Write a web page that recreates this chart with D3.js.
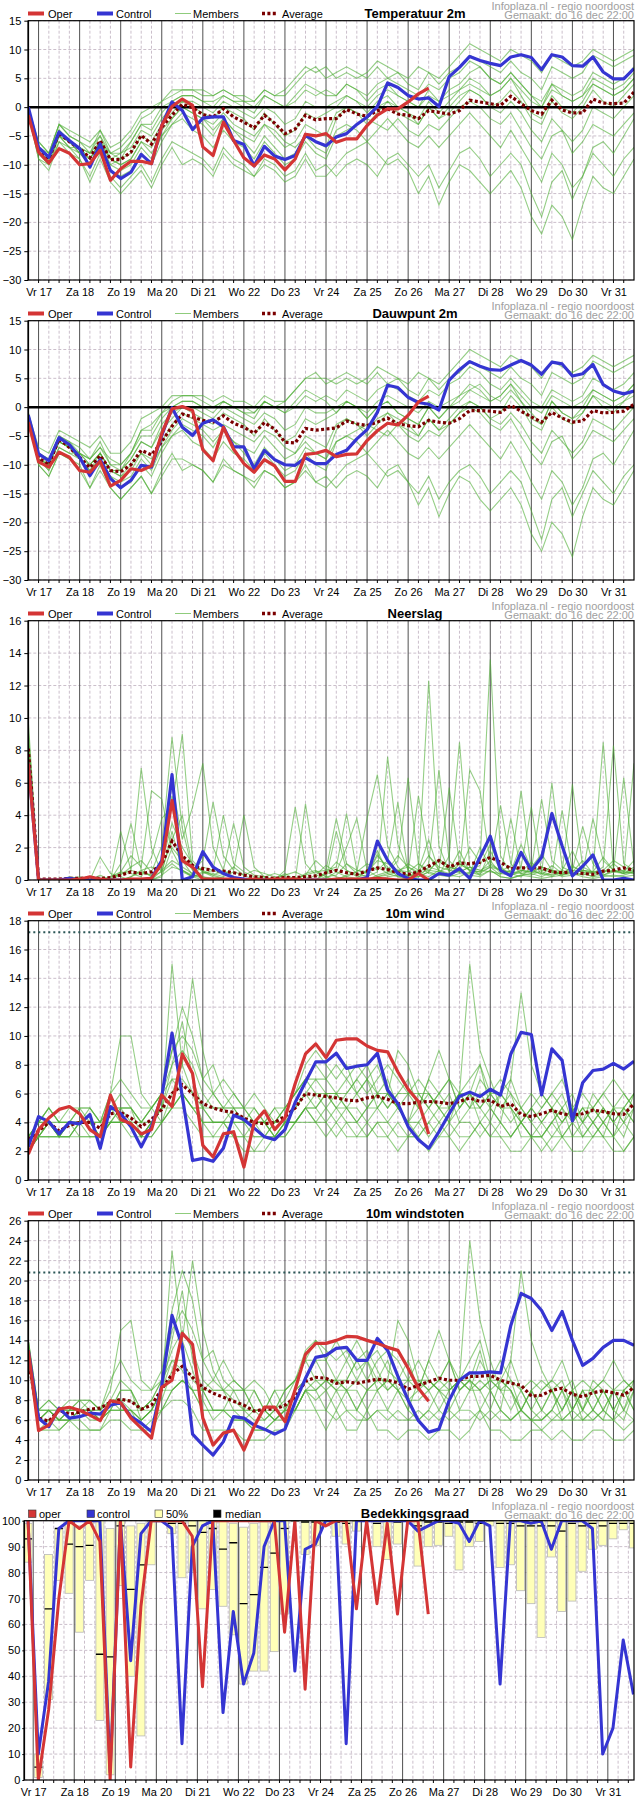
<!DOCTYPE html>
<html><head><meta charset="utf-8">
<script src="https://cdn.jsdelivr.net/npm/d3@7"></script>
<style>body{margin:0;background:#fff}svg{display:block}text{font-family:"Liberation Sans",Arial,sans-serif}</style>
</head><body><svg id="chart" width="635" height="1800"></svg>
<script>
// ---------- DATA ----------
const dayLabels = ["Vr 17","Za 18","Zo 19","Ma 20","Di 21","Wo 22","Do 23","Vr 24","Za 25","Zo 26","Ma 27","Di 28","Wo 29","Do 30","Vr 31"];
const titles = ["Temperatuur 2m","Dauwpunt 2m","Neerslag","10m wind","10m windstoten","Bedekkingsgraad"];
const infoLine1 = "Infoplaza.nl - regio noordoost";
const infoLine2 = "Gemaakt: do 16 dec 22:00";
const tempTicks = [-30,-25,-20,-15,-10,-5,0,5,10,15];
const precipTicks = [0,2,4,6,8,10,12,14,16];
const windTicks = [0,2,4,6,8,10,12,14,16,18];
const gustTicks = [0,2,4,6,8,10,12,14,16,18,20,22,24,26];
const cloudTicks = [0,10,20,30,40,50,60,70,80,90,100];
const windThreshold = 17.2;
const gustThreshold = 20.8;

const tempOper = [-1.4,-7.8,-9.7,-7.2,-8.0,-10.0,-9.8,-7.5,-12.7,-10.7,-9.4,-9.4,-9.8,-3.2,0.1,1.4,0.3,-6.9,-8.4,-2.6,-5.8,-8.8,-10.2,-8.3,-9.0,-10.9,-9.0,-4.7,-5.0,-4.6,-6.1,-5.5,-5.5,-3.2,-1.4,-0.3,-0.3,0.9,2.3,3.3];
const tempControl = [0,-7,-8.7,-4.3,-5.8,-7.2,-10.4,-6.4,-11,-12.4,-11.3,-8.2,-9.8,-3.2,0.9,-0.6,-3.9,-1.9,-1.7,-1.7,-5.8,-6.5,-10.2,-6.8,-8.5,-9.1,-8.4,-4.9,-6.0,-6.7,-5.2,-4.6,-3.0,-1.7,0.1,4.2,3.4,2.0,1.4,1.6,0.1,5.3,6.9,8.8,8.1,7.6,7.2,8.7,9.1,8.6,6.5,9.1,8.7,7.2,7.1,8.7,6.1,4.9,4.9,6.7];
const tempAverage = [-1,-7.5,-9,-4.5,-6,-7.2,-8.8,-5.8,-9.1,-9.1,-7.8,-4.9,-6.4,-3.5,-1.4,0.5,-0.1,-1.3,-1.7,-0.3,-1.7,-2.6,-3.6,-1.4,-2.8,-4.6,-3.8,-1.4,-2.2,-2.0,-2.0,-0.4,-1.2,-1.6,-0.6,-0.3,-1.2,-1.4,-2.0,-0.6,-0.9,-1.2,-0.6,1.2,0.9,0.6,0.3,1.9,0.6,-0.6,-1.2,1.2,-0.5,-1.0,-1.0,1.4,0.7,0.6,0.7,2.6];
const tempMembers = [
[-1,-7,-8,-3,-5,-6,-7,-5,-8,-7,-5,-2,-1,1,2,3,3,2,2,3,2,1,1,3,2,3,5,7,6,7,5,6,5,6,8,7,6,5,7,6,5,7,9,11,10,9,8,10,9,8,6,9,8,7,8,10,9,8,9,10],
[-1,-9,-10,-6,-7,-9,-12,-8,-12,-14,-12,-10,-13,-9,-6,-7,-8,-9,-11,-7,-9,-10,-12,-9,-10,-12,-11,-8,-11,-10,-12,-10,-9,-10,-12,-9,-8,-10,-12,-10,-14,-11,-8,-7,-9,-12,-10,-8,-10,-15,-19,-13,-11,-16,-12,-8,-10,-12,-9,-7],
[-1,-7,-9,-4,-6,-7,-8,-5,-9,-8,-7,-4,-5,-2,0,1,1,0,-1,1,0,-1,-2,0,-1,-3,-2,1,0,0,1,2,1,0,2,3,2,1,0,2,1,2,3,4,3,2,3,5,3,1,0,3,2,1,2,4,3,2,3,5],
[-1,-8,-10,-5,-7,-8,-10,-7,-10,-11,-10,-7,-9,-5,-2,0,-1,-2,-4,-2,-4,-5,-6,-3,-5,-7,-6,-3,-4,-5,-1,0,-1,-2,0,1,-1,-2,-3,0,-2,-1,1,3,2,0,1,3,1,-2,-3,1,-1,-2,0,3,1,0,2,4],
[0,-6,-8,-3,-5,-6,-8,-4,-8,-9,-6,-3,-4,-1,1,2,2,1,0,2,1,0,-1,2,1,0,1,3,2,3,2,4,3,2,4,5,4,3,2,4,3,5,6,8,7,5,4,6,4,2,1,4,3,2,3,6,5,4,5,7],
[-1,-8,-9,-5,-6,-7,-9,-6,-9,-10,-9,-6,-7,-4,-2,0,-1,-2,-3,-1,-3,-4,-5,-3,-4,-6,-7,-5,-7,-8,-4,-3,-4,-6,-4,-2,-4,-6,-7,-5,-7,-5,-3,-1,-3,-5,-7,-4,-7,-10,-13,-8,-10,-14,-12,-7,-6,-8,-5,-2],
[-1,-7,-9,-4,-6,-8,-9,-6,-10,-9,-8,-5,-6,-3,-1,1,0,-1,-2,0,-1,-2,-4,-1,-3,-5,-4,-1,-2,-1,0,2,1,-1,1,2,0,-1,-2,1,-1,1,3,5,4,2,3,5,2,-1,-2,2,0,-1,1,4,3,2,3,5],
[-1,-9,-11,-6,-8,-9,-13,-9,-13,-15,-13,-11,-14,-10,-7,-10,-9,-10,-12,-8,-10,-11,-12,-10,-11,-13,-12,-9,-12,-12,-10,-8,-7,-6,-8,-10,-9,-11,-15,-12,-17,-13,-10,-11,-13,-15,-13,-11,-14,-19,-22,-17,-19,-23,-17,-12,-14,-15,-12,-9],
[-1,-6,-8,-3,-4,-5,-6,-4,-7,-6,-4,-1,0,1,3,3,3,3,2,3,2,2,1,3,2,2,4,6,7,5,6,7,6,5,7,5,6,4,3,6,4,6,7,9,8,7,6,8,6,5,3,7,6,5,6,9,8,7,8,9],
[-1,-8,-10,-5,-7,-7,-9,-6,-9,-10,-9,-6,-8,-5,-3,-1,-2,-3,-5,-2,-4,-6,-8,-5,-7,-9,-8,-5,-6,-7,-2,0,-1,-3,-1,1,0,-1,-3,0,-2,0,2,3,2,0,-1,1,-1,-4,-6,-2,-4,-6,-4,0,-1,-2,0,2],
[0,-7,-9,-4,-6,-7,-8,-6,-8,-8,-6,-3,-3,0,1,2,2,1,1,2,1,1,0,2,1,0,2,4,3,2,2,4,3,1,3,4,2,1,0,3,1,3,4,6,7,5,4,6,4,2,0,4,2,1,2,5,4,3,4,6],
[-1,-8,-9,-5,-6,-8,-10,-7,-11,-12,-11,-8,-10,-6,-3,-2,-4,-5,-7,-4,-6,-7,-9,-6,-8,-10,-9,-6,-8,-9,-5,-4,-3,-2,-3,-4,-2,-4,-5,-3,-4,-2,0,1,0,-2,-3,-1,-4,-7,-9,-5,-4,-8,-6,-3,-4,-5,-3,-1]
];

const dewOper = [-2.6,-9.5,-10.4,-7.8,-8.7,-11.0,-11.3,-9.4,-13.7,-12.7,-10.7,-11.0,-10.2,-4.6,-0.3,0.1,-0.6,-7.4,-9.3,-3.5,-7.3,-9.8,-11.3,-9.1,-10.2,-12.9,-12.9,-8.2,-8.0,-7.5,-8.6,-8.2,-8.1,-5.8,-4.1,-2.8,-3.1,-1.4,0.9,1.9];
const dewControl = [-1.4,-8.1,-9.3,-5.3,-6.5,-8.7,-11.9,-9.1,-12.4,-14.0,-12.7,-10.1,-10.4,-4.9,-0.1,-3.5,-4.9,-2.8,-2.2,-3.4,-6.9,-6.9,-10.7,-7.5,-9.1,-10.0,-10.1,-8.8,-9.8,-9.8,-8.2,-7.5,-5.5,-3.9,-0.9,3.8,3.4,1.7,0.8,0.5,-0.5,4.7,6.5,7.9,7.1,6.5,6.4,7.3,8.1,7.3,5.7,7.8,7.5,5.4,5.8,7.4,3.9,2.8,2.3,2.8];
const dewAverage = [-2,-8.8,-10,-5.5,-7,-8.7,-10.5,-8.4,-11,-11.2,-10,-7.5,-8.3,-6,-3.3,-1.2,-1.7,-2.3,-2.6,-1.5,-2.8,-3.5,-4.5,-2.7,-3.8,-6.1,-6.2,-3.7,-4.0,-3.8,-3.6,-2.4,-2.9,-3.2,-2.6,-1.9,-2.9,-3.2,-3.4,-2.3,-2.6,-2.8,-2.0,-0.6,-0.6,-0.7,-0.9,0.3,-0.7,-1.7,-2.6,-0.9,-1.9,-2.6,-2.4,-0.6,-1.0,-0.9,-0.7,0.5];
const dewMembers = [
[-2,-8,-9,-5,-6,-8,-9,-7,-10,-10,-8,-4,-3,-1,1,2,2,1,0,1,0,-1,-1,1,0,1,3,5,5,5,4,5,4,5,7,6,5,4,6,5,4,6,8,10,9,8,7,9,8,7,5,8,7,6,7,9,8,7,8,9],
[-2,-10,-12,-8,-9,-11,-14,-10,-14,-16,-14,-12,-15,-12,-9,-9,-10,-11,-13,-9,-11,-12,-14,-11,-12,-14,-13,-10,-13,-12,-14,-12,-11,-12,-14,-11,-10,-13,-15,-12,-16,-13,-11,-10,-12,-15,-13,-11,-13,-18,-23,-16,-14,-19,-15,-11,-13,-15,-12,-10],
[-2,-9,-10,-6,-7,-8,-10,-8,-11,-11,-9,-6,-7,-3,-1,0,0,-1,-2,0,-1,-2,-3,-1,-2,-4,-3,0,-1,-1,0,1,0,-1,1,2,1,0,-1,1,0,1,2,3,2,1,2,4,2,0,-1,2,1,0,1,3,2,1,2,4],
[-2,-9,-11,-7,-8,-9,-11,-9,-12,-13,-12,-9,-11,-7,-4,-2,-3,-4,-6,-4,-6,-7,-8,-5,-7,-9,-8,-5,-6,-7,-3,-2,-3,-4,-2,-1,-3,-4,-5,-2,-4,-3,-1,1,0,-2,-1,2,0,-3,-4,0,-2,-3,-1,2,0,-1,1,2],
[-1,-8,-9,-5,-6,-7,-9,-6,-10,-11,-8,-5,-5,-2,0,1,1,0,-1,1,0,-1,-2,1,0,-1,0,2,1,2,1,3,2,1,3,4,3,2,1,3,2,4,5,7,6,4,3,5,3,1,0,3,2,1,2,5,4,3,4,6],
[-2,-9,-10,-6,-7,-9,-11,-8,-11,-12,-10,-8,-9,-6,-3,-1,-2,-3,-4,-3,-4,-5,-6,-4,-5,-7,-8,-6,-8,-9,-6,-5,-6,-8,-6,-4,-6,-8,-9,-7,-9,-7,-5,-3,-5,-7,-9,-6,-9,-13,-16,-11,-13,-17,-14,-9,-8,-10,-7,-4],
[-2,-9,-10,-6,-7,-9,-10,-8,-11,-11,-9,-6,-7,-4,-2,0,-1,-2,-3,-1,-2,-3,-5,-2,-4,-6,-5,-2,-3,-2,-1,1,0,-2,0,1,-1,-2,-3,0,-2,0,2,4,3,1,2,4,1,-2,-3,1,-1,-2,0,3,2,1,2,4],
[-2,-10,-12,-8,-9,-10,-14,-11,-14,-16,-14,-12,-15,-11,-8,-11,-10,-11,-13,-10,-11,-12,-13,-11,-12,-14,-13,-11,-13,-14,-12,-10,-9,-8,-10,-12,-11,-13,-17,-14,-19,-15,-12,-13,-16,-18,-16,-14,-17,-22,-25,-20,-22,-26,-19,-14,-16,-17,-14,-11],
[-1,-7,-8,-4,-5,-6,-7,-5,-8,-8,-6,-2,-1,0,2,2,2,2,1,2,1,1,0,2,1,1,3,5,6,4,5,6,5,4,6,4,5,3,2,5,3,5,6,8,7,6,5,7,5,4,2,6,5,4,5,8,7,6,7,8],
[-2,-9,-11,-7,-8,-8,-10,-8,-11,-12,-11,-8,-10,-7,-5,-3,-4,-5,-7,-4,-6,-8,-10,-7,-9,-11,-10,-7,-8,-9,-4,-2,-3,-5,-3,-1,-2,-3,-5,-2,-4,-2,0,1,0,-2,-3,-1,-3,-6,-8,-4,-6,-8,-6,-2,-3,-4,-2,0],
[-1,-8,-10,-5,-7,-8,-9,-7,-9,-10,-8,-4,-4,-1,0,1,1,0,0,1,0,0,-1,1,0,-1,1,3,2,1,-1,1,0,-2,0,1,-1,-2,-3,0,-2,0,1,3,4,2,1,3,1,-1,-3,1,-1,-2,-1,2,1,0,1,3],
[-2,-9,-10,-6,-7,-9,-11,-9,-12,-14,-13,-10,-12,-8,-5,-4,-6,-7,-9,-6,-8,-9,-11,-8,-10,-12,-11,-8,-10,-11,-6,-5,-4,-3,-4,-5,-3,-5,-6,-4,-5,-3,-1,0,-1,-3,-4,-2,-5,-8,-10,-6,-5,-9,-7,-4,-5,-6,-4,-2]
];

const precipOper = [7.2,0,0,0,0,0.05,0.2,0.05,0,0,0.05,0.05,0.1,1.0,4.9,1.2,0.8,0.05,0.05,0.05,0.05,0,0.05,0,0.05,0.05,0.05,0,0,0,0.05,0.05,0.05,0.05,0.1,0.05,0,0,0.4,0];
const precipControl = [7.2,0,0,0,0.1,0,0,0,0,0,0,0,0.1,1.2,6.5,0,0.2,1.75,0.8,0.4,0.15,0.05,0,0,0,0,0,0,0,0,0,0,0,0.15,2.4,1.2,0.4,0.1,0,0,0.4,0.3,0.7,0.1,1.4,2.7,0.6,0.25,1.7,0.6,1.4,4.1,2.1,0.25,0.85,1.55,0,0,0.1,0];
const precipAverage = [8.1,0.05,0.05,0.05,0.1,0.1,0.15,0.1,0.15,0.3,0.5,0.4,0.5,1.0,2.4,1.5,0.9,0.7,0.6,0.55,0.45,0.3,0.2,0.15,0.1,0.15,0.15,0.2,0.25,0.45,0.6,0.45,0.35,0.55,0.75,0.65,0.45,0.35,0.5,0.85,1.2,0.8,1.05,1.0,1.1,1.4,1.1,0.7,0.75,0.75,0.75,0.5,0.45,0.5,0.4,0.35,0.55,0.6,0.75,0.6];
const precipMembers = [
[8.5,0,0,0,0.1,0.2,0,0,0,0.3,0.8,1.2,0.5,2.1,8.8,3.2,0.6,0.2,0,0,0,0,0,0,0.1,0.3,0.5,0.2,0,0.4,1.1,0.6,0.2,0.3,1.5,0.8,0.2,0,0.6,12.3,2.1,0.5,1.2,0.6,0.9,2.2,0.8,0.3,0.5,1.1,0.4,0.2,0.6,1.8,0.5,0.2,0.6,1.2,0.8,0.5],
[7.8,0,0,0,0,0,0.1,0,0.2,0.5,0.4,0.2,1.4,3.8,4.5,9.0,1.2,0.5,0.3,0.1,0,0,0.1,0.2,0,0,0,0.4,0.6,0.2,0.3,1.0,0.4,0.2,0.5,7.6,2.2,0.6,0.2,0.5,1.3,0.8,0.6,2.0,1.1,13.6,1.5,0.4,0.2,0.8,1.6,0.6,0.3,0.5,1.2,0.4,0.8,8.3,1.0,0.6],
[9.2,0.1,0,0,0.2,0.1,0,0.3,0,1.0,3.5,0.6,0.2,1.2,6.0,2.5,4.5,7.2,2.0,0.6,0.2,0,0,0,0.2,0,0.1,0,0.3,0.9,0.5,0.2,0.1,0.6,1.8,0.5,1.2,6.3,1.0,0.4,0.3,1.5,8.5,0.8,0.3,1.8,0.6,0.5,2.2,0.7,0.3,0.9,0.4,0.6,3.3,1.0,0.3,0.6,6.3,0.9],
[7.4,0,0,0,0,0,0,0,0,0,0.2,0.5,0.3,0.8,5.2,1.5,0.6,1.2,4.8,1.5,0.6,4.0,0.8,0.2,0,0,0,0,0,0.1,0.5,2.0,3.8,0.6,0.2,0.3,0.5,1.0,0.6,2.5,0.5,0.3,1.0,0.6,0.5,1.2,0.4,0.6,0.8,4.5,0.5,0.3,0.5,5.9,0.8,0.5,1.4,0.6,0.5,1.2],
[8.0,0,0.1,0,0,0,0,1.4,0.4,0.2,0,0,0,0.6,1.2,0.8,0.4,0.8,0.6,4.0,1.0,0.5,0.2,0,0,0.4,0,4.7,0.5,0.2,0,0.3,0.5,3.8,6.5,2.1,0.8,0.2,0.4,1.0,6.8,1.2,0.5,0.4,2.0,0.8,0.3,3.8,0.6,0.4,0.8,0.6,0.3,0.9,0.4,3.8,1.2,0.6,0.4,7.2],
[9.8,0.1,0,0.1,0,0,0,0,0,3.0,0.6,6.9,2.0,0.4,3.0,0.6,0.2,0.5,0.2,0.1,0,0,0,0,0,0,0,0,0,0,0.1,0.2,0.5,1.0,0.6,1.2,4.8,0.5,5.2,1.5,0.6,5.7,1.0,0.6,0.5,0.8,4.6,1.0,0.4,0.6,5.0,1.2,0.6,0.4,0.6,0.5,0.4,1.0,0.5,0.4],
[7.2,0,0,0,0,0,0,0,0,0,0,0,0,0.2,2.0,1.2,0.3,0.2,0.1,0,0,0,0,0,0,0,0,0,0,0,0,0,0,0,0,0.2,0.3,0,0.2,0.5,0.3,0.2,0.4,0.3,0.2,0.6,0.2,0.1,0.3,0.2,0.1,0.2,0.3,0.4,0.2,0.1,0.2,0.3,0.2,0.3],
[8.2,0,0,0,0,0,0,0,0,0.5,1.5,0.8,5.5,5.0,1.8,0.6,0.2,0.4,0.6,0.3,0.8,0.3,0,0.1,0,0.6,4.5,1.0,0.3,0.1,3.0,0.6,0.3,0.5,0.8,0.4,0.6,0.5,1.0,0.6,0.5,0.8,0.6,6.8,5.5,1.0,0.6,0.8,5.5,0.6,0.4,6.0,0.8,0.5,0.3,0.5,8.5,0.6,0.4,0.8],
[7.6,0,0,0,0,0,0,0,0,0,0,0,0.2,0.5,1.0,0.5,0.2,0,0,0,0,0,0,0,0,0,0,0,0,0.5,0.2,0,0,0,0.3,0.5,0.6,0.3,0.2,0.8,0.6,0.4,0.5,0.8,0.6,0.5,0.4,0.3,0.6,0.5,0.4,0.3,4.3,0.6,0.5,0.4,0.3,0.5,0.6,0.4],
[8.8,0,0,0,0,0,0,0,0,0,0.2,0.6,0.8,0.6,2.5,4.0,0.8,0.6,0.3,0.6,3.5,0.8,0.3,0.2,0.4,0.2,0,0.3,1.2,0.6,3.8,1.0,0.6,0.4,1.6,0.6,1.5,0.8,0.4,0.6,1.2,0.6,0.5,0.8,0.6,0.9,0.6,0.5,0.4,0.3,0.6,0.5,0.4,0.8,0.6,0.4,0.5,0.6,0.4,0.5],
[7.0,0,0,0,0,0,0,0,0,0,0,0,0,0.3,0.8,0.6,0.3,0.1,0,0,0,0,0,0,0,0,0,0,0,0,0,0,0,0,0.2,0.4,0.2,0.3,0.4,0.2,0.6,0.3,0.2,0.5,0.3,0.6,0.2,0.1,0.3,0.4,0.2,0.5,0.2,0.3,0.4,0.2,0.3,0.2,0.3,0.5],
[8.4,0,0,0,0,0,0,0,0,0.4,0.6,0.4,0.3,1.0,3.5,2.0,1.0,0.5,0.4,0.2,0.5,0.3,0.6,0.4,0.2,0,0.1,0.3,0.5,0.6,0.8,4.1,0.6,0.5,1.2,1.0,0.6,0.8,0.5,1.5,0.8,0.6,1.8,0.5,0.4,0.8,0.6,0.4,0.6,0.5,0.8,0.6,0.5,0.4,0.6,0.5,0.6,0.5,0.4,0.6]
];

const windOper = [1.8,3.5,4.3,4.9,5.1,4.6,3.5,3.0,5.9,4.2,3.9,3.2,3.5,5.9,5.1,8.75,7.4,2.4,1.6,3.2,3.35,0.9,4.0,4.8,3.5,4.3,6.7,8.75,9.45,8.5,9.7,9.8,9.8,9.3,9.0,8.9,7.5,6.3,5.45,3.2];
const windControl = [2.3,4.4,4.05,3.2,4.0,3.9,4.55,2.2,5.1,4.6,3.7,2.3,3.7,5.8,10.2,5.8,1.35,1.5,1.3,2.2,4.5,4.2,3.6,3.0,2.8,3.5,5.4,6.8,8.2,8.2,8.8,7.75,7.9,8.0,8.8,6.25,5.3,3.7,2.8,2.2,3.35,4.6,5.8,6.1,5.8,6.3,5.9,8.75,10.25,10.1,5.9,9.1,8.3,4.1,6.75,7.6,7.7,8.1,7.7,8.25];
const windAverage = [2.8,3.4,4.0,3.4,3.8,4.0,4.0,3.6,4.6,4.7,4.3,3.7,4.2,4.9,6.0,6.6,6.0,5.3,5.0,4.8,4.7,4.3,4.0,3.9,4.0,4.4,5.0,6.0,5.9,5.8,5.7,5.55,5.5,5.7,5.8,5.6,5.3,5.3,5.4,5.45,5.4,5.3,5.45,5.7,5.45,5.55,5.1,5.3,4.55,4.4,4.6,4.85,4.6,4.5,4.6,4.85,4.75,4.6,4.55,5.3];
const windMembers = [
[3,4,5,4,4,5,5,4,6,10,10,6,5,6,9,12,10,7,6,5,5,4,4,3,4,5,6,8,9,8,7,8,6,7,8,6,5,4,4,5,6,7,5,6,8,5,6,5,4,5,6,5,4,5,4,5,6,5,4,6],
[2,3,3,3,3,4,3,3,4,4,4,3,4,5,15,8,6,4,3,4,3,3,2,3,3,4,5,6,5,6,5,6,7,8,6,5,6,7,5,6,5,4,6,15,9,7,5,6,4,3,3,4,5,3,4,5,4,3,5,4],
[3,4,4,3,4,4,4,3,5,5,4,4,5,4,6,8,14,9,6,5,4,4,5,4,3,4,4,5,4,5,4,5,4,5,6,7,5,4,5,7,9,7,5,6,4,5,4,7,13,8,6,5,6,4,5,4,3,5,6,5],
[3,3,4,4,4,4,4,4,5,5,5,4,5,6,7,6,5,5,6,7,6,5,4,4,3,4,5,6,7,6,6,5,5,4,5,4,5,4,3,4,5,6,4,5,6,5,4,3,4,5,4,5,3,4,5,4,5,4,3,5],
[2,3,4,3,4,4,4,3,5,4,4,3,4,5,8,11,7,5,4,4,4,4,3,3,4,5,6,7,6,5,6,7,8,7,5,6,9,8,6,5,4,5,6,7,8,6,5,4,5,4,3,4,5,6,4,3,4,5,4,5],
[3,4,4,3,3,4,5,4,4,5,5,4,4,5,5,6,5,5,4,4,5,5,6,5,4,4,4,5,5,6,6,5,6,5,6,6,5,4,6,6,5,4,5,6,5,4,6,5,3,3,4,3,4,5,3,4,5,4,5,6],
[2,3,3,3,4,3,3,3,4,4,3,3,3,4,5,5,4,3,3,3,3,2,2,2,3,3,4,4,4,3,4,3,3,4,3,3,2,3,3,2,3,3,2,3,4,3,3,2,2,3,3,2,3,2,2,3,3,2,2,3],
[3,4,5,4,5,5,4,4,5,6,5,4,5,6,9,10,9,7,8,6,5,5,4,4,5,5,6,7,8,7,8,7,6,7,6,5,6,6,5,7,6,5,6,5,7,6,5,5,4,5,4,5,4,5,4,6,5,4,5,6],
[3,3,4,3,4,4,4,3,4,5,5,3,4,5,7,7,6,5,5,5,6,5,5,4,5,4,4,5,6,6,5,5,4,5,5,6,5,6,7,6,5,5,6,6,5,6,6,7,5,4,5,6,5,4,5,5,4,5,5,4],
[2,3,4,3,3,4,4,3,4,4,4,3,4,4,5,6,5,4,4,4,3,3,4,4,3,3,4,5,4,4,3,4,3,3,4,4,3,3,4,3,4,3,4,4,3,4,3,3,4,3,2,3,3,4,3,3,4,3,2,3],
[3,4,5,4,4,5,5,4,6,7,6,5,5,6,8,9,8,6,5,5,5,4,4,4,4,5,6,7,7,7,6,6,7,6,7,8,7,6,6,5,6,7,6,5,5,6,7,6,5,6,5,6,7,5,6,5,6,7,6,5],
[2,3,3,3,3,3,3,3,4,4,4,3,3,4,5,6,5,4,4,4,4,3,3,3,3,4,4,5,5,4,5,4,4,3,4,3,4,3,3,4,3,4,3,3,4,3,4,3,4,3,3,4,3,3,3,4,3,3,4,3]
];

const gustOper = [13.0,4.95,5.5,7.1,7.3,7.0,6.5,5.95,7.95,7.75,6.2,5.2,4.2,9.3,10.0,14.7,13.6,6.2,3.5,4.7,5.0,3.0,5.35,7.3,7.3,5.85,9.1,12.6,13.7,13.7,14.0,14.4,14.35,14.0,13.7,13.3,13.0,11.2,9.2,7.9];
const gustControl = [13.0,6.2,5.35,7.2,6.2,6.35,6.7,6.6,7.5,7.75,6.35,5.7,4.85,9.5,16.5,13.4,4.6,3.5,2.5,3.85,6.35,6.2,5.5,5.1,4.6,5.1,7.85,10.2,12.3,12.5,13.2,13.3,12.0,12.0,14.2,13.0,10.4,8.0,5.95,4.8,5.1,8.0,10.0,10.75,10.75,10.85,10.75,15.5,18.7,18.2,17.0,15.0,16.9,14.0,11.5,12.2,13.3,14.0,14.0,13.5];
const gustAverage = [12,6.2,5.9,7.0,6.6,6.8,7.1,7.2,7.8,8.1,7.9,7.1,7.5,9.1,10.6,11.4,10.3,9.3,8.7,8.3,7.9,7.5,6.9,7.1,7.1,7.5,8.3,9.9,10.3,10.2,9.7,9.85,9.7,9.9,10.1,10.0,9.75,9.1,9.5,9.85,10.2,10.0,10.0,10.4,10.4,10.5,10.0,9.7,9.5,8.4,8.5,9.0,9.2,8.6,8.35,8.75,8.95,8.75,8.5,9.3];
const gustMembers = [
[13,7,7,7,7,8,8,7,9,15,16,10,9,11,17,21,18,12,10,9,8,7,7,6,7,8,10,13,14,13,12,13,11,12,13,11,10,8,8,9,10,12,9,10,13,9,10,9,7,9,10,9,7,9,7,9,10,9,7,10],
[14,6,6,6,6,7,6,6,7,7,7,6,7,9,23,14,11,8,6,7,6,6,5,5,6,7,9,10,9,10,9,10,12,13,11,9,10,12,9,10,9,8,10,24,16,12,9,10,7,6,6,7,9,6,7,9,7,6,9,7],
[13,7,7,6,7,7,7,6,8,8,7,7,8,8,11,14,22,15,11,9,7,7,9,7,6,7,7,9,8,9,7,9,7,9,10,12,9,8,9,12,15,12,9,10,7,9,7,12,21,14,11,9,10,7,9,7,6,9,10,9],
[12,6,7,7,7,7,7,7,8,8,8,7,8,10,12,11,9,9,10,12,10,9,7,7,6,7,9,10,12,10,10,9,9,7,9,7,9,7,6,7,9,10,7,9,10,9,7,6,7,9,7,9,6,7,9,7,9,7,6,9],
[13,6,7,6,7,7,7,6,8,7,7,6,7,9,14,19,12,9,7,7,7,7,6,6,7,9,10,12,10,9,10,12,14,12,9,10,16,14,10,9,7,9,10,12,14,10,9,7,9,7,6,7,9,10,7,6,7,9,7,9],
[14,7,7,6,6,7,8,7,7,9,9,7,7,9,9,10,9,9,7,7,9,9,10,9,7,7,7,9,9,10,10,9,10,9,10,10,9,7,10,10,9,7,9,10,9,7,10,9,6,6,7,6,7,9,6,7,9,7,9,10],
[12,5,5,5,6,5,5,5,6,6,5,5,5,7,8,8,7,5,5,5,5,4,4,4,5,5,7,7,7,5,7,5,5,7,5,5,4,5,5,4,5,5,4,5,7,5,5,4,4,5,5,4,5,4,4,5,5,4,4,5],
[13,7,8,7,8,8,7,7,8,10,9,7,8,10,15,17,15,12,13,10,9,9,7,7,9,9,10,12,14,12,14,12,10,12,10,9,10,10,9,12,10,9,10,9,12,10,9,9,7,9,7,9,7,9,7,10,9,7,9,10],
[13,6,7,6,7,7,7,6,7,9,9,6,7,9,12,12,10,9,9,9,10,9,9,7,9,7,7,9,10,10,9,9,7,9,9,10,9,10,12,10,9,9,10,10,9,10,10,12,9,7,9,10,9,7,9,9,7,9,9,7],
[12,6,7,6,6,7,7,6,7,7,7,6,7,7,9,10,9,7,7,7,6,6,7,7,6,6,7,9,7,7,6,7,6,6,7,7,6,6,7,6,7,6,7,7,6,7,6,6,7,6,5,6,6,7,6,6,7,6,5,6],
[14,7,8,7,7,8,8,7,10,12,10,9,9,10,13,15,13,10,9,9,9,7,7,7,7,9,10,12,12,12,10,10,12,10,12,13,12,10,10,9,10,12,10,9,9,10,12,10,9,10,9,10,12,9,10,9,10,12,10,9],
[12,5,6,5,6,6,5,5,7,7,7,5,6,7,9,10,9,7,7,7,7,6,5,5,6,7,7,9,9,7,9,7,7,6,7,6,7,6,6,7,6,7,6,6,7,6,7,6,7,6,6,7,6,6,6,7,6,6,7,6]
];

const cloudOper = [100,0,27,70,100,97,100,92,0,100,5,67,100,100,100,100,94,36,100,100,100,100,100,100,100,57,100,35,100,98,100,100,66,100,68,99,64,100,100,64];
const cloudControl = [100,10,38,97,100,100,100,100,3,100,46,95,100,100,97,14,90,98,100,26,65,37,49,90,100,100,42,89,91,100,100,14,100,100,100,100,100,100,96,98,100,100,99,92,100,98,37,100,100,99,100,89,100,100,100,97,10,20,54,33];
const cloudHigh = [99,10,87,97,100,98,100,100,97,100,98,99,100,100,100,100,100,100,100,100,99,97.5,99,99.5,100,100,100,100,100,100,100,100,100,100,100,100,100,100,100,100,100,100,100,100,100,100,100,100,100,100,100,100,100,100,100,100,100,100,100,100];
const cloudLow = [84,1,31,77,72,57,77,23,2,75,40,17,83,100,95,78,80,66,73.5,67,56,37,42,42,49.5,64,100,87,90.5,98,94,91,96,100,90,85,91,100,82.5,90,90.5,94,81,90,92,98,82,83,73,68,55,86,65,69,80.5,89,90.5,93,96.5,89.5];
const cloudMedian = [93,5,66,97,91,90,90.5,48.5,47.5,98,73.5,83,100,100,99,99,98,95.5,97,89,91.5,68,71.5,82,87.5,97,100,99.5,99.5,100,99.5,99,100,100,99,100,99.5,100,98,99.5,99.5,99,99.5,99.5,99,100,99,99,98,98,98,98,96,99,98,99,98,99,99,99];

// ---------- LAYOUT / STYLE ----------
const PH = 300, PT = 20.7, PB = 280, PR = 634;
const FONT = '"Liberation Sans",Arial,sans-serif';
const C_OPER = "#d43535", C_CTRL = "#3535d2", C_MEM = "#4fae36", C_AVG = "#7a0000";
const C_GRID = "#cbbfcb", C_DAY = "#505050", C_THR = "#2a5656";
const HOUR = 3600e3;
const startLines = new Date(2021,11,16,18);
const endLines = new Date(startLines.getTime() + 59*6*HOUR);
const startCloudPts = new Date(2021,11,16,21);
const svg = d3.select("#chart");

function frame(k, xs, ys, ticks, tickSize, tickPad){
  const g = svg.append("g").attr("transform", `translate(0,${k*PH})`);
  const x0 = xs.range()[0];
  const id = "clip" + k;
  g.append("clipPath").attr("id", id).append("rect")
    .attr("x", x0).attr("y", PT).attr("width", PR - x0).attr("height", PB - PT);
  g.append("g").selectAll("line").data(ticks).join("line")
    .attr("x1", x0).attr("x2", PR).attr("y1", d => ys(d)).attr("y2", d => ys(d))
    .attr("stroke", C_GRID).attr("stroke-dasharray", "3,2");
  const [d0, d1] = xs.domain();
  const six = d3.timeHour.every(6).range(d0, d1).filter(d => xs(d) > x0 + 1);
  g.append("g").selectAll("line").data(six.filter(d => d.getHours() !== 0)).join("line")
    .attr("x1", d => xs(d)).attr("x2", d => xs(d)).attr("y1", PT).attr("y2", PB)
    .attr("stroke", C_GRID).attr("stroke-dasharray", "3,2");
  const days = d3.timeDay.range(d0, d1);
  g.append("g").selectAll("line").data(days).join("line")
    .attr("x1", d => xs(d)).attr("x2", d => xs(d)).attr("y1", PT).attr("y2", PB)
    .attr("stroke", C_DAY).attr("stroke-width", 1);
  g.append("g").selectAll("line").data(six).join("line")
    .attr("x1", d => xs(d)).attr("x2", d => xs(d)).attr("y1", PB).attr("y2", PB + 3)
    .attr("stroke", "#000");
  g.append("g").attr("transform", `translate(${x0},0)`)
    .call(d3.axisLeft(ys).tickValues(ticks).tickSize(tickSize).tickPadding(tickPad).tickFormat(d3.format("d")))
    .call(a => { a.select(".domain").remove();
      a.selectAll("text").attr("font-size", 11).attr("font-family", FONT).attr("fill", "#000"); });
  g.append("g").attr("transform", `translate(0,${PB})`)
    .call(d3.axisBottom(xs).tickValues(days).tickSize(0).tickPadding(8).tickFormat((d, i) => dayLabels[i]))
    .call(a => { a.select(".domain").remove();
      a.selectAll("text").attr("font-size", 11).attr("font-family", FONT).attr("fill", "#000"); });
  g.append("text").attr("x", 415).attr("y", 17.5).attr("text-anchor", "middle")
    .attr("font-size", 13).attr("font-weight", "bold").text(titles[k]);
  g.append("text").attr("x", PR).attr("y", 9.5).attr("text-anchor", "end")
    .attr("font-size", 11).attr("fill", "#a0a0a0").text(infoLine1);
  g.append("text").attr("x", PR).attr("y", 19).attr("text-anchor", "end")
    .attr("font-size", 11).attr("fill", "#a0a0a0").text(infoLine2);
  const content = g.append("g").attr("clip-path", `url(#${id})`);
  return {g, content, x0};
}

function border(f){
  f.g.append("rect").attr("x", f.x0).attr("y", PT).attr("width", PR - f.x0).attr("height", PB - PT)
    .attr("fill", "none").attr("stroke", "#000").attr("stroke-width", 1.2);
  f.g.append("line").attr("x1", f.x0).attr("x2", f.x0).attr("y1", PT).attr("y2", PB)
    .attr("stroke", "#000").attr("stroke-width", 1.6);
}

function lineLegend(g){
  const items = [
    {t:"Oper", c:C_OPER, w:4, x:28, tx:48},
    {t:"Control", c:C_CTRL, w:4, x:97, tx:116},
    {t:"Members", c:"#8fcc7c", w:1, x:175, tx:193},
    {t:"Average", c:C_AVG, w:3.5, x:262, tx:282, dash:"3,2.4"}
  ];
  items.forEach(it => {
    g.append("line").attr("x1", it.x).attr("x2", it.x + 16).attr("y1", 13.5).attr("y2", 13.5)
      .attr("stroke", it.c).attr("stroke-width", it.w).attr("stroke-dasharray", it.dash || null);
    g.append("text").attr("x", it.tx).attr("y", 17.5).attr("font-size", 11).text(it.t);
  });
}

function linePanel(k, domain, ticks, oper, control, average, members, opts = {}){
  const xs = d3.scaleTime().domain([startLines, endLines]).range([28.3, PR]);
  const ys = d3.scaleLinear().domain(domain).range([PB, PT]);
  const f = frame(k, xs, ys, ticks, 4, 3);
  const tAt = i => new Date(startLines.getTime() + i*6*HOUR);
  const line = d3.line().x((d, i) => xs(tAt(i))).y(d => ys(d));
  f.content.append("g").selectAll("path").data(members).join("path")
    .attr("d", line).attr("fill", "none").attr("stroke", C_MEM)
    .attr("stroke-opacity", 0.6).attr("stroke-width", 1.1);
  if (opts.zero) f.content.append("line").attr("x1", f.x0).attr("x2", PR)
    .attr("y1", ys(0)).attr("y2", ys(0)).attr("stroke", "#000").attr("stroke-width", 2.5);
  if (opts.threshold !== undefined) f.content.append("line").attr("x1", f.x0).attr("x2", PR)
    .attr("y1", ys(opts.threshold)).attr("y2", ys(opts.threshold))
    .attr("stroke", C_THR).attr("stroke-width", 2).attr("stroke-dasharray", "2,3");
  f.content.append("path").attr("d", line(average)).attr("fill", "none").attr("stroke", C_AVG)
    .attr("stroke-width", 3.2).attr("stroke-dasharray", "3,2.4");
  f.content.append("path").attr("d", line(control)).attr("fill", "none").attr("stroke", C_CTRL)
    .attr("stroke-width", 3.2).attr("stroke-linejoin", "round");
  f.content.append("path").attr("d", line(oper)).attr("fill", "none").attr("stroke", C_OPER)
    .attr("stroke-width", 3.2).attr("stroke-linejoin", "round");
  border(f);
  lineLegend(f.g);
}

linePanel(0, [-30, 15], tempTicks, tempOper, tempControl, tempAverage, tempMembers, {zero:true});
linePanel(1, [-30, 15], tempTicks, dewOper, dewControl, dewAverage, dewMembers, {zero:true});
linePanel(2, [0, 16], precipTicks, precipOper, precipControl, precipAverage, precipMembers);
linePanel(3, [0, 18], windTicks, windOper, windControl, windAverage, windMembers, {threshold: windThreshold});
linePanel(4, [0, 26], gustTicks, gustOper, gustControl, gustAverage, gustMembers, {threshold: gustThreshold});

// ---------- CLOUD PANEL ----------
(function(){
  const k = 5;
  const xs = d3.scaleTime().domain([new Date(2021,11,16,18,48), new Date(2021,11,31,15,18)]).range([24.3, PR]);
  const ys = d3.scaleLinear().domain([0, 100]).range([PB, PT]);
  const f = frame(k, xs, ys, cloudTicks, 2, 2);
  const tAt = i => new Date(startCloudPts.getTime() + i*6*HOUR);
  const bw = 8;
  f.content.append("g").selectAll("rect").data(cloudHigh).join("rect")
    .attr("x", (d, i) => xs(tAt(i)) - bw/2).attr("width", bw)
    .attr("y", d => ys(d)).attr("height", (d, i) => Math.max(1, ys(cloudLow[i]) - ys(d)))
    .attr("fill", "#ffffb8").attr("stroke", "#b8b8b8").attr("stroke-width", 0.8);
  f.content.append("g").selectAll("line").data(cloudMedian).join("line")
    .attr("x1", (d, i) => xs(tAt(i)) - bw/2).attr("x2", (d, i) => xs(tAt(i)) + bw/2)
    .attr("y1", d => ys(d)).attr("y2", d => ys(d)).attr("stroke", "#000").attr("stroke-width", 1.3);
  const line = d3.line().x((d, i) => xs(tAt(i))).y(d => ys(d));
  f.content.append("path").attr("d", line(cloudControl)).attr("fill", "none").attr("stroke", C_CTRL)
    .attr("stroke-width", 3).attr("stroke-linejoin", "round");
  f.content.append("path").attr("d", line(cloudOper)).attr("fill", "none").attr("stroke", C_OPER)
    .attr("stroke-width", 3).attr("stroke-linejoin", "round");
  border(f);
  const items = [
    {t:"oper", c:C_OPER, x:28.5, tx:39},
    {t:"control", c:C_CTRL, x:87, tx:97},
    {t:"50%", c:"#ffffb0", x:155, tx:166},
    {t:"median", c:"#000", x:213.5, tx:225}
  ];
  items.forEach(it => {
    f.g.append("rect").attr("x", it.x).attr("y", 10).attr("width", 7.5).attr("height", 7.5)
      .attr("fill", it.c).attr("stroke", "#333").attr("stroke-width", 0.6);
    f.g.append("text").attr("x", it.tx).attr("y", 17.5).attr("font-size", 11).text(it.t);
  });
})();
</script>
</body></html>
